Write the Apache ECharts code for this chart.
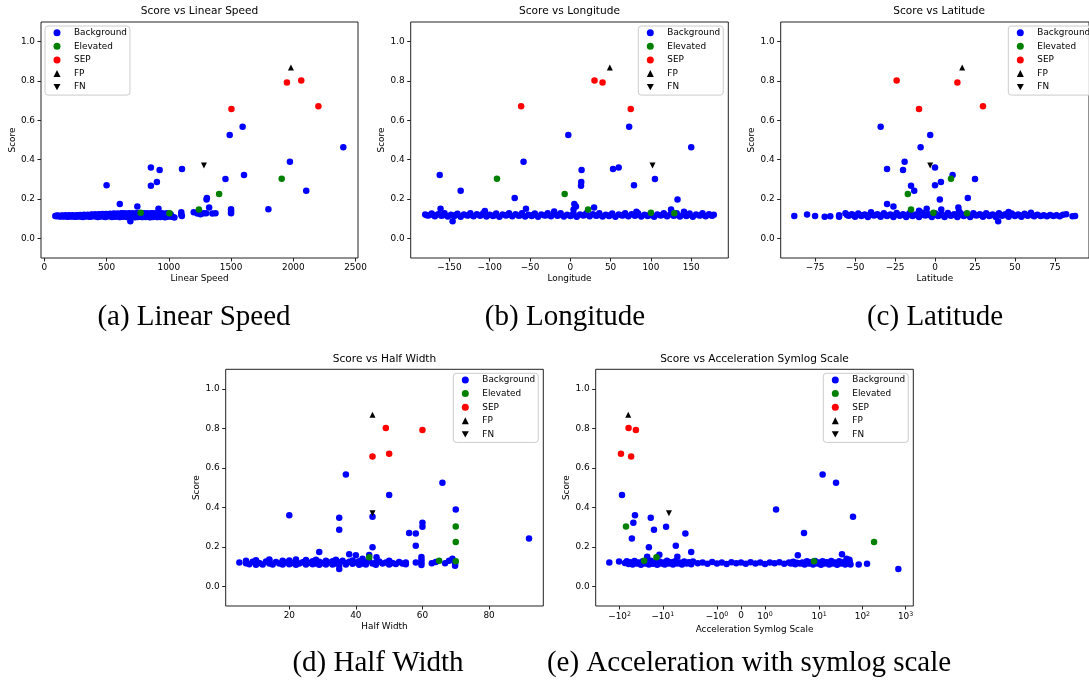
<!DOCTYPE html>
<html><head><meta charset="utf-8">
<script src="https://cdn.jsdelivr.net/npm/echarts@6/dist/echarts.min.js"></script>
<style>html,body{margin:0;padding:0;background:#fff;overflow:hidden}#chart{width:1089px;height:681px}</style>
</head><body><div id="chart"></div>
<script>
// ---------- DATA ----------
const classNames = ['Background', 'Elevated', 'SEP', 'FP', 'FN'];

// SEP events (red)
const sepScore = [0.802, 0.792, 0.672, 0.658];
const sepSpeed = [2064, 1949, 2202, 1503];
const sepLon = [30, 40, -61, 75];
const sepLat = [-24, 14, 30, -10];
const sepHalfWidth = [49, 60, 50, 45];
const sepAccel = [-62, -42, -93, -54];

// False positive / false negative
const fpScore = [0.869];
const fpSpeed = [1981];
const fpLon = [49];
const fpLat = [17];
const fpHalfWidth = [45];
const fpAccel = [-63];

const fnScore = [0.370];
const fnSpeed = [1282];
const fnLon = [102];
const fnLat = [-3];
const fnHalfWidth = [45];
const fnAccel = [-7.2];

// Elevated (green)
const elevScore = [0.303, 0.225, 0.147, 0.130, 0.127];
const elevSpeed = [1907, 1404, 1242, 774, 1005];
const elevLon = [-91, -7, 22, 100, 129];
const elevLat = [10, -17, -15, -1, 20];
const elevHalfWidth = [70, 70, 44, 65, 70];
const elevAccel = [-71, 186, -14, -27, 7.6];

// Background events that stand out of the band
const bgScore = [0.567, 0.525, 0.463, 0.389, 0.360, 0.352, 0.348, 0.322, 0.302, 0.286, 0.270, 0.268, 0.242, 0.205, 0.198, 0.174, 0.162, 0.157, 0.087];
const bgSpeed = [1593, 1489, 2402, 1973, 856, 1106, 926, 1604, 1455, 904, 500, 856, 2104, 1306, 1303, 606, 747, 1324, 691];
const bgLon = [73, -2.5, 150, -58, 60, 53, 14, -162, 105, 13.6, 79, 13.3, -136, -69, 133, 5, 7, 29.5, -146];
const bgLat = [-34, -3, -9, -19, 0, -30, -20, 11, 25, 3.7, 0, -15, -13, 20.5, 3, -30, -26, 14.6, 39.5];
const bgHalfWidth = [37, 66, 50, 70, 20, 45, 35, 60, 60, 35, 56, 58, 92, 58, 45, 29, 38, 40, 35];
const bgAccel = [12, 24.5, -88, 1.46, -44, 60.6, -19, -48, -8.4, -16, 4.45, -3.0, -52, -5, -21, -2.2, 33.7, 3.2, 679];

// Dense background band [x, score] per panel
const bandSpeed = [[88,0.113],[96,0.115],[100,0.112],[108,0.116],[115,0.114],[122,0.112],[130,0.111],[138,0.116],[145,0.115],[152,0.111],[160,0.112],[168,0.117],[175,0.114],[182,0.111],[190,0.110],[198,0.117],[205,0.116],[212,0.111],[220,0.112],[228,0.118],[235,0.114],[242,0.110],[250,0.110],[258,0.118],[265,0.117],[272,0.111],[280,0.112],[288,0.119],[295,0.115],[302,0.110],[310,0.109],[318,0.120],[325,0.118],[332,0.111],[340,0.113],[348,0.120],[355,0.116],[362,0.110],[370,0.110],[378,0.121],[385,0.120],[392,0.112],[400,0.113],[408,0.122],[415,0.117],[422,0.110],[430,0.108],[438,0.123],[445,0.121],[452,0.111],[460,0.114],[468,0.124],[475,0.118],[482,0.110],[490,0.109],[498,0.124],[505,0.122],[512,0.112],[520,0.114],[528,0.125],[535,0.119],[542,0.109],[550,0.110],[558,0.126],[565,0.124],[572,0.110],[580,0.115],[588,0.126],[595,0.120],[602,0.109],[610,0.108],[618,0.127],[625,0.126],[632,0.110],[640,0.114],[648,0.127],[655,0.121],[662,0.108],[670,0.109],[678,0.127],[685,0.125],[692,0.110],[700,0.115],[708,0.128],[715,0.120],[722,0.108],[730,0.107],[738,0.127],[745,0.127],[752,0.109],[760,0.116],[768,0.128],[775,0.121],[782,0.108],[790,0.108],[798,0.127],[805,0.126],[812,0.109],[820,0.114],[828,0.128],[835,0.120],[842,0.108],[850,0.107],[858,0.127],[865,0.127],[872,0.109],[880,0.115],[888,0.128],[895,0.121],[902,0.108],[910,0.108],[918,0.127],[925,0.128],[932,0.109],[940,0.114],[948,0.127],[955,0.120],[962,0.108],[970,0.107],[978,0.126],[985,0.126],[992,0.110],[1000,0.115],[1008,0.125],[1015,0.121],[1022,0.110],[1030,0.110],[1045,0.106],[1100,0.120],[1100,0.133],[1105,0.113],[1200,0.133],[1230,0.126],[1255,0.122],[1280,0.127],[1300,0.128],[1350,0.126],[1375,0.128],[1500,0.148],[1500,0.137],[1500,0.128],[1800,0.148],[917,0.151]];
const bandLon = [[-180,0.121],[-176,0.116],[-172,0.126],[-168,0.112],[-164,0.122],[-160,0.115],[-156,0.127],[-152,0.111],[-148,0.120],[-144,0.114],[-140,0.125],[-136,0.110],[-132,0.121],[-128,0.116],[-124,0.127],[-120,0.112],[-116,0.122],[-112,0.115],[-108,0.128],[-104,0.111],[-100,0.120],[-96,0.114],[-92,0.126],[-88,0.110],[-84,0.121],[-80,0.116],[-76,0.127],[-72,0.112],[-68,0.122],[-64,0.115],[-60,0.128],[-56,0.111],[-52,0.120],[-48,0.114],[-44,0.126],[-40,0.110],[-36,0.121],[-32,0.116],[-28,0.127],[-24,0.112],[-20,0.122],[-16,0.115],[-12,0.128],[-8,0.111],[-4,0.120],[0,0.114],[4,0.126],[8,0.110],[12,0.121],[16,0.116],[20,0.127],[24,0.112],[28,0.122],[32,0.115],[36,0.128],[40,0.111],[44,0.120],[48,0.114],[52,0.126],[56,0.110],[60,0.121],[64,0.116],[68,0.127],[72,0.112],[76,0.122],[80,0.115],[84,0.128],[88,0.111],[92,0.120],[96,0.114],[100,0.126],[104,0.110],[108,0.121],[112,0.116],[116,0.127],[120,0.112],[124,0.122],[128,0.115],[132,0.128],[136,0.111],[140,0.120],[144,0.114],[148,0.126],[152,0.110],[156,0.121],[160,0.116],[164,0.127],[168,0.112],[172,0.122],[176,0.115],[178,0.120],[-178,0.117],[-170,0.119],[-158,0.118],[-142,0.119],[-126,0.118],[-110,0.119],[-94,0.118],[-78,0.119],[-62,0.118],[-46,0.119],[-30,0.118],[-14,0.119],[2,0.118],[18,0.119],[34,0.118],[50,0.119],[66,0.118],[82,0.119],[98,0.118],[114,0.119],[130,0.118],[146,0.119],[162,0.118],[174,0.119],[-161,0.150],[-106,0.139],[-55,0.150],[82,0.135],[125,0.146],[141,0.135],[4,0.146],[-20,0.137]];
const bandLat = [[-88,0.114],[-80,0.121],[-75,0.114],[-69,0.110],[-65.5,0.112],[-60,0.117],[-60,0.110],[-56,0.128],[-54,0.115],[-52,0.122],[-50,0.110],[-48,0.126],[-46,0.114],[-44,0.121],[-42,0.109],[-40,0.127],[-38,0.116],[-36,0.122],[-34,0.110],[-32,0.128],[-30,0.114],[-28,0.121],[-26,0.109],[-24,0.129],[-22,0.115],[-20,0.122],[-18,0.108],[-16,0.128],[-14,0.114],[-12,0.121],[-10,0.109],[-8,0.130],[-6,0.116],[-4,0.122],[-2,0.108],[0,0.128],[2,0.114],[4,0.121],[6,0.109],[8,0.129],[10,0.115],[12,0.122],[14,0.108],[16,0.128],[18,0.114],[20,0.121],[22,0.109],[24,0.127],[26,0.116],[28,0.122],[30,0.110],[32,0.128],[34,0.114],[36,0.121],[38,0.109],[40,0.127],[42,0.115],[44,0.122],[46,0.110],[48,0.126],[50,0.114],[52,0.121],[54,0.110],[56,0.125],[58,0.115],[60,0.130],[62,0.112],[64,0.120],[66,0.114],[68,0.118],[70,0.112],[72,0.119],[74,0.113],[76,0.117],[78,0.112],[80,0.120],[82,0.123],[86,0.112],[87.6,0.114],[-55,0.119],[-51,0.118],[-47,0.119],[-43,0.118],[-39,0.119],[-35,0.118],[-31,0.119],[-27,0.118],[-23,0.119],[-19,0.118],[-15,0.119],[-11,0.118],[-7,0.119],[-3,0.118],[1,0.119],[5,0.118],[9,0.119],[13,0.118],[17,0.119],[21,0.118],[25,0.119],[29,0.118],[33,0.119],[37,0.118],[41,0.119],[45,0.118],[49,0.119],[53,0.118],[57,0.119],[61,0.118],[-5.2,0.151],[3.9,0.146],[-10,0.140],[-40,0.133],[46,0.134],[15,0.138]];
const bandHalfWidth = [[5,0.121],[7,0.130],[7,0.117],[8,0.112],[9,0.124],[10,0.109],[10,0.132],[11,0.118],[12,0.110],[13,0.126],[14,0.115],[14,0.132],[15,0.110],[16,0.123],[17,0.116],[18,0.110],[18,0.129],[19,0.120],[20,0.112],[20,0.131],[21,0.118],[22,0.109],[22,0.126],[23,0.115],[24,0.122],[25,0.110],[25,0.133],[26,0.119],[27,0.112],[27,0.127],[28,0.116],[29,0.109],[29,0.124],[30,0.118],[31,0.111],[31,0.130],[32,0.120],[33,0.110],[33,0.127],[34,0.115],[35,0.122],[35,0.108],[36,0.129],[37,0.117],[37,0.110],[38,0.124],[39,0.114],[39,0.131],[40,0.120],[41,0.109],[41,0.127],[42,0.116],[43,0.122],[43,0.110],[44,0.128],[45,0.115],[46,0.121],[46,0.109],[47,0.126],[48,0.116],[49,0.121],[50,0.111],[50,0.130],[51,0.118],[52,0.113],[53,0.123],[54,0.115],[55,0.121],[55,0.112],[58,0.121],[59.7,0.148],[59.7,0.134],[59.7,0.121],[59.7,0.108],[62.8,0.117],[64,0.123],[66.8,0.117],[68,0.130],[69,0.140],[69.8,0.117],[69.8,0.104],[46.2,0.147],[42,0.140],[34,0.135],[28,0.135],[22,0.136],[14,0.136],[44,0.158]];
const bandAccel = [[-173,0.121],[-103,0.125],[-75,0.118],[-68,0.127],[-62,0.113],[-56,0.122],[-50,0.110],[-45,0.128],[-40,0.115],[-36,0.121],[-32,0.109],[-29,0.127],[-26,0.116],[-23,0.150],[-23,0.120],[-21,0.110],[-19,0.129],[-17,0.114],[-15,0.122],[-13.5,0.109],[-12,0.160],[-12,0.126],[-11,0.115],[-10,0.121],[-9,0.110],[-8,0.129],[-7.2,0.116],[-6.5,0.122],[-5.8,0.111],[-5.2,0.127],[-4.6,0.150],[-4.6,0.115],[-4.1,0.121],[-3.6,0.110],[-3.2,0.126],[-2.8,0.116],[-2.5,0.122],[-2.2,0.112],[-2.0,0.125],[-1.8,0.117],[-1.6,0.121],[-1.4,0.114],[-1.2,0.123],[-1.0,0.116],[-0.8,0.120],[-0.6,0.113],[-0.4,0.122],[-0.2,0.117],[0,0.120],[0.2,0.114],[0.4,0.122],[0.6,0.116],[0.8,0.121],[1.0,0.113],[1.2,0.120],[1.4,0.117],[1.6,0.122],[1.8,0.114],[2.0,0.121],[2.2,0.116],[2.5,0.124],[2.8,0.112],[3.6,0.115],[4.1,0.121],[4.6,0.110],[5.2,0.127],[5.8,0.116],[6.5,0.122],[7.2,0.110],[8,0.128],[9,0.115],[10,0.121],[11,0.109],[12,0.127],[13.5,0.116],[15,0.122],[17,0.110],[19,0.128],[21,0.115],[23,0.121],[26,0.109],[29,0.127],[32,0.116],[36,0.122],[40,0.110],[43,0.140],[45,0.127],[48,0.115],[50,0.135],[51,0.122],[53,0.110],[-70,0.119],[-59,0.118],[-47,0.119],[-38,0.118],[-30,0.119],[-24,0.118],[-20,0.119],[-16,0.118],[-14,0.119],[-9.5,0.118],[-7.6,0.119],[-6,0.118],[-4.9,0.119],[-3.9,0.118],[-3,0.119],[-2.4,0.118],[2.4,0.118],[3,0.119],[3.9,0.118],[4.9,0.119],[6,0.118],[7.6,0.119],[9.5,0.118],[14,0.119],[16,0.118],[20,0.119],[24,0.118],[30,0.119],[38,0.118],[47,0.119],[82,0.111],[128,0.114]];

// Axis ticks
const scoreTicks = [0, 0.2, 0.4, 0.6, 0.8, 1.0];
const speedTicks = [0, 500, 1000, 1500, 2000, 2500];
const lonTicks = [-150, -100, -50, 0, 50, 100, 150];
const latTicks = [-75, -50, -25, 0, 25, 50, 75];
const halfWidthTicks = [20, 40, 60, 80];
const accelTicks = [-100, -10, -1, 0, 1, 10, 100, 1000];

// ---------- SCALES ----------
const LT = 2, LS = 1 / (1 - 1 / 10);
function symlog(v) {
  const a = Math.abs(v);
  return a <= LT ? v / LT * LS : Math.sign(v) * (LS + Math.log10(a / LT));
}
const ident = v => v;

function accelLabel(v) {
  let best = 0, bd = 1e9;
  accelTicks.forEach((t, i) => { const d = Math.abs(symlog(t) - v); if (d < bd) { bd = d; best = i; } });
  const t = accelTicks[best];
  if (t === 0) return '0';
  const e = Math.round(Math.log10(Math.abs(t)));
  return (t < 0 ? '\u2212' : '') + '10{s|' + e + '}';
}

// ---------- LAYOUT ----------
const FONT = 'DejaVu Sans';
const panels = [
  {title: 'Score vs Linear Speed', xName: 'Linear Speed', caption: '(a) Linear Speed',
   grid: {left: 41, top: 22, width: 317, height: 236}, xmin: -27, xmax: 2520, tx: ident, ticks: speedTicks,
   bg: bgSpeed, band: bandSpeed, elev: elevSpeed, sep: sepSpeed, fp: fpSpeed, fn: fnSpeed,
   legend: {left: 45, top: 26}, capX: 194, capY: 300, nameGap: 16},
  {title: 'Score vs Longitude', xName: 'Longitude', caption: '(b) Longitude',
   grid: {left: 410.7, top: 22, width: 317.6, height: 236}, xmin: -198, xmax: 196, tx: ident, ticks: lonTicks,
   bg: bgLon, band: bandLon, elev: elevLon, sep: sepLon, fp: fpLon, fn: fnLon,
   legend: {left: 638.3, top: 26}, capX: 565, capY: 300, nameGap: 16},
  {title: 'Score vs Latitude', xName: 'Latitude', caption: '(c) Latitude',
   grid: {left: 780.7, top: 22, width: 317, height: 236}, xmin: -96.5, xmax: 96.3, tx: ident, ticks: latTicks,
   bg: bgLat, band: bandLat, elev: elevLat, sep: sepLat, fp: fpLat, fn: fnLat,
   legend: {left: 1008.3, top: 26}, capX: 935, capY: 300, nameGap: 16},
  {title: 'Score vs Half Width', xName: 'Half Width', caption: '(d) Half Width',
   grid: {left: 225.7, top: 369.3, width: 317.6, height: 236.7}, xmin: 0.9, xmax: 96.3, tx: ident, ticks: halfWidthTicks,
   bg: bgHalfWidth, band: bandHalfWidth, elev: elevHalfWidth, sep: sepHalfWidth, fp: fpHalfWidth, fn: fnHalfWidth,
   legend: {left: 453.3, top: 373.3}, capX: 378, capY: 646, nameGap: 16},
  {title: 'Score vs Acceleration Symlog Scale', xName: 'Acceleration Symlog Scale', caption: '(e) Acceleration with symlog scale',
   grid: {left: 595.7, top: 369.3, width: 317.6, height: 236.7}, xmin: -3.363, xmax: 3.988, tx: symlog, ticks: accelTicks,
   bg: bgAccel, band: bandAccel, elev: elevAccel, sep: sepAccel, fp: fpAccel, fn: fnAccel,
   legend: {left: 823.3, top: 373.3}, capX: 749, capY: 646, nameGap: 19, accel: true}
];

const textBase = {fontFamily: FONT, color: '#000'};
const titles = [], grids = [], xAxes = [], yAxes = [], legends = [], series = [];

panels.forEach((p, i) => {
  grids.push(Object.assign({show: true, borderColor: '#222', borderWidth: 1, backgroundColor: 'transparent'}, p.grid));
  titles.push({text: p.title, left: p.grid.left + p.grid.width / 2, top: p.grid.top - 17, textAlign: 'center', padding: 0,
    textStyle: Object.assign({fontSize: 10.6, fontWeight: 'normal', lineHeight: 13}, textBase)});
  titles.push({text: p.caption, left: p.capX, top: p.capY, textAlign: 'center', padding: 0,
    textStyle: {fontFamily: 'Liberation Serif', fontSize: 29, fontWeight: 'normal', color: '#000', lineHeight: 34}});
  const tickVals = p.ticks.map(p.tx);
  xAxes.push({type: 'value', gridIndex: i, min: p.xmin, max: p.xmax, name: p.xName, nameLocation: 'middle', nameGap: p.nameGap,
    nameTextStyle: Object.assign({fontSize: 8.9}, textBase),
    axisLine: {show: false, onZero: false}, splitLine: {show: false},
    axisTick: {show: true, inside: false, length: 3.5, customValues: tickVals, lineStyle: {color: '#222', width: 1}},
    axisLabel: Object.assign({show: true, margin: 5, fontSize: 8.9, customValues: tickVals, hideOverlap: false,
      formatter: p.accel ? accelLabel : (v => String(Math.round(v)).replace('-', '\u2212')),
      rich: {s: {fontSize: 6.3, fontFamily: FONT, color: '#000', padding: [0, 0, 6, 0]}}}, textBase)});
  yAxes.push({type: 'value', gridIndex: i, min: -0.1, max: 1.1, name: 'Score', nameLocation: 'middle', nameGap: 24,
    nameTextStyle: Object.assign({fontSize: 8.9}, textBase),
    axisLine: {show: false, onZero: false}, splitLine: {show: false},
    axisTick: {show: true, inside: false, length: 3.5, customValues: scoreTicks, lineStyle: {color: '#222', width: 1}},
    axisLabel: Object.assign({show: true, margin: 6, fontSize: 8.9, customValues: scoreTicks, formatter: v => v.toFixed(1)}, textBase)});
  legends.push({left: p.legend.left, top: p.legend.top, orient: 'vertical', itemWidth: 7, itemHeight: 7, itemGap: 3.6,
    padding: [1.7, 3, 3, 8.5], backgroundColor: 'rgba(255,255,255,0.8)', borderColor: '#cccccc', borderWidth: 1, borderRadius: 3,
    selectedMode: false, data: classNames,
    textStyle: Object.assign({fontSize: 8.9, lineHeight: 10, padding: [0, 0, 0, 8.5]}, textBase)});

  const pts = (xs, ys) => xs.map((x, k) => [p.tx(x), ys[k]]);
  const bgData = p.band.map(([x, y]) => [p.tx(x), y]).concat(pts(p.bg, bgScore));
  const common = {type: 'scatter', xAxisIndex: i, yAxisIndex: i, silent: true, animation: false};
  series.push(Object.assign({name: 'Background', data: bgData, symbol: 'circle', symbolSize: 6.5, itemStyle: {color: '#0000ff', opacity: 1}}, common));
  series.push(Object.assign({name: 'Elevated', data: pts(p.elev, elevScore), symbol: 'circle', symbolSize: 6.5, itemStyle: {color: '#008000', opacity: 1}}, common));
  series.push(Object.assign({name: 'SEP', data: pts(p.sep, sepScore), symbol: 'circle', symbolSize: 6.5, itemStyle: {color: '#ff0000', opacity: 1}}, common));
  series.push(Object.assign({name: 'FP', data: pts(p.fp, fpScore), symbol: 'triangle', symbolSize: [6, 6], itemStyle: {color: '#000000', opacity: 1}}, common));
  series.push(Object.assign({name: 'FN', data: pts(p.fn, fnScore), symbol: 'path://M0,0 L10,0 L5,9 Z', symbolSize: [6, 6], itemStyle: {color: '#000000', opacity: 1}}, common));
});

const chart = echarts.init(document.getElementById('chart'), null, {renderer: 'canvas'});
chart.setOption({
  backgroundColor: '#fff', animation: false,
  title: titles, grid: grids, xAxis: xAxes, yAxis: yAxes, legend: legends, series: series
});
</script></body></html>
